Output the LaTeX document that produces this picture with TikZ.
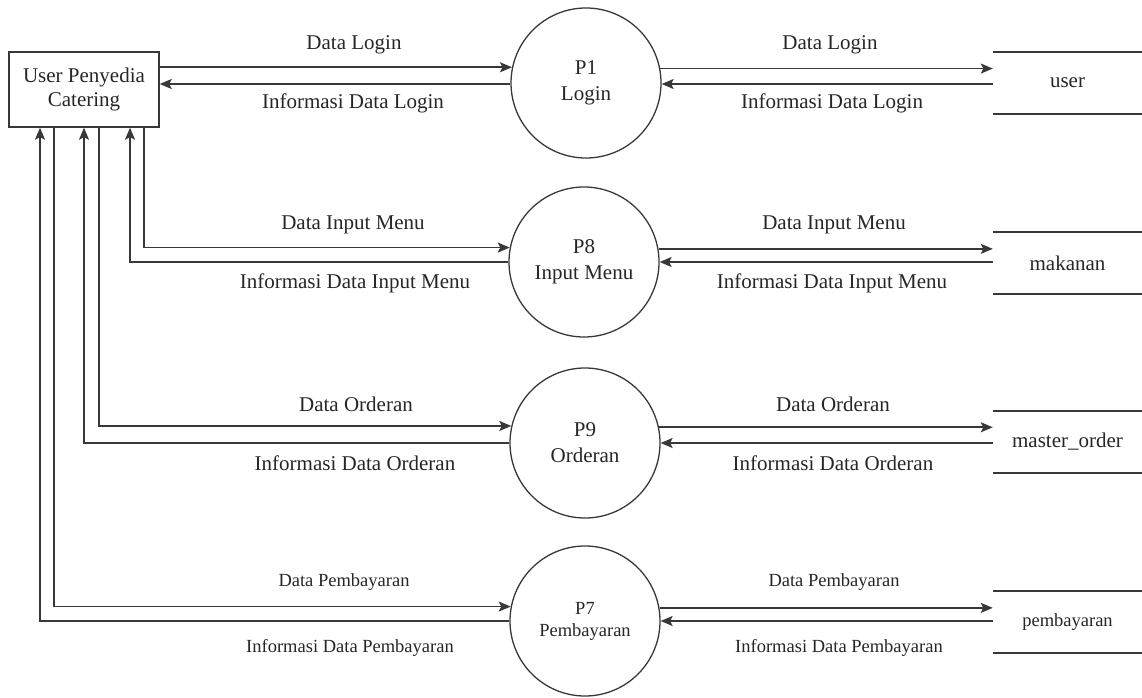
\documentclass[tikz,border=0pt]{standalone}
\usepackage{fontspec}
\setmainfont{LiberationSerif}[Extension=.ttf, UprightFont=*-Regular, BoldFont=*-Bold, ItalicFont=*-Italic, BoldItalicFont=*-BoldItalic]
\usetikzlibrary{arrows.meta}
\begin{document}
\begin{tikzpicture}[x=1pt,y=-1pt,
  ink/.style={draw=black!78},
  flow/.style={ink, line width=1.6pt, -{Stealth[length=12pt,width=10pt,inset=2.5pt]}},
  big/.style={font=\fontsize{21}{25}\selectfont, text=black!85},
  small/.style={font=\fontsize{18.5}{22}\selectfont, text=black!85},
  process/.style={circle, ink, line width=1.3pt, minimum size=150pt, inner sep=0pt, align=center},
  entity/.style={rectangle, ink, line width=1.4pt, minimum width=150pt, minimum height=75pt, align=center, inner sep=0pt},
  store/.style={minimum width=149pt, minimum height=62pt, inner sep=0pt},
  storeline/.style={ink, line width=1.6pt},
]
\useasboundingbox (0,0) rectangle (1142,698);

% external entity
\node[entity, big, font=\fontsize{21}{23.5}\selectfont] (ext) at (84,89.5) {User Penyedia\\Catering};

% processes
\node[process, big, font=\fontsize{21}{26}\selectfont] (p1) at (586,83)  {P1\\Login};
\node[process, big, font=\fontsize{21}{26}\selectfont] (p8) at (584,262) {P8\\Input Menu};
\node[process, big, font=\fontsize{21}{26}\selectfont] (p9) at (585,443) {P9\\Orderan};
\node[process, small, font=\fontsize{18.5}{22}\selectfont] (p7) at (585,621) {P7\\Pembayaran};

% data stores
\node[store, big] (s1) at (1067.5,83)  {user};
\node[store, big] (s8) at (1067.5,263) {makanan};
\node[store, big] (s9) at (1067.5,442) {master\_order};
\node[store, small] (s7) at (1067.5,622) {pembayaran};
\foreach \s in {s1,s8,s9,s7}{
  \draw[storeline] (\s.north west) -- (\s.north east);
  \draw[storeline] (\s.south west) -- (\s.south east);
}

% P1 flows
\draw[flow] (ext.east |- p1.168.5) -- (p1.168.5);
\draw[flow] (p1.west |- 0,84) -- (ext.east |- 0,84);
\draw[flow] (p1.11.5) -- (s1.west |- p1.11.5);
\draw[flow] (s1.west |- 0,84) -- (p1.east |- 0,84);

% P8 flows
\draw[flow] ([xshift=60pt]ext.south) |- (p8.169.2);
\draw[flow] (p8.west) -| ([xshift=46pt]ext.south);
\draw[flow] (p8.10.8) -- (s8.west |- p8.10.8);
\draw[flow] (s8.west |- p8.east) -- (p8.east);

% P9 flows
\draw[flow] ([xshift=15pt]ext.south) |- (p9.167.7);
\draw[flow] (p9.west) -| (ext.south);
\draw[flow] (p9.12.3) -- (s9.west |- p9.12.3);
\draw[flow] (s9.west |- p9.east) -- (p9.east);

% P7 flows
\draw[flow] ([xshift=-30pt]ext.south) |- (p7.169.2);
\draw[flow] (p7.west) -| ([xshift=-44pt]ext.south);
\draw[flow] (p7.10.8) -- (s7.west |- p7.10.8);
\draw[flow] (s7.west |- p7.east) -- (p7.east);

% flow labels
\node[big] (l1a) at (354,45)  {Data Login};
\node[big] (l1b) at (353,103) {Informasi Data Login};
\node[big] (l1c) at (830,45)  {Data Login};
\node[big] (l1d) at (832,103) {Informasi Data Login};

\node[big] (l8a) at (353,225) {Data Input Menu};
\node[big] (l8b) at (355,283) {Informasi Data Input Menu};
\node[big] (l8c) at (834,225) {Data Input Menu};
\node[big] (l8d) at (832,283) {Informasi Data Input Menu};

\node[big] (l9a) at (356,404) {Data Orderan};
\node[big] (l9b) at (355,463) {Informasi Data Orderan};
\node[big] (l9c) at (833,404) {Data Orderan};
\node[big] (l9d) at (833,463) {Informasi Data Orderan};

\node[small] (l7a) at (344,582) {Data Pembayaran};
\node[small] (l7b) at (350,648) {Informasi Data Pembayaran};
\node[small] (l7c) at (834,582) {Data Pembayaran};
\node[small] (l7d) at (839,648) {Informasi Data Pembayaran};
\end{tikzpicture}
\end{document}
